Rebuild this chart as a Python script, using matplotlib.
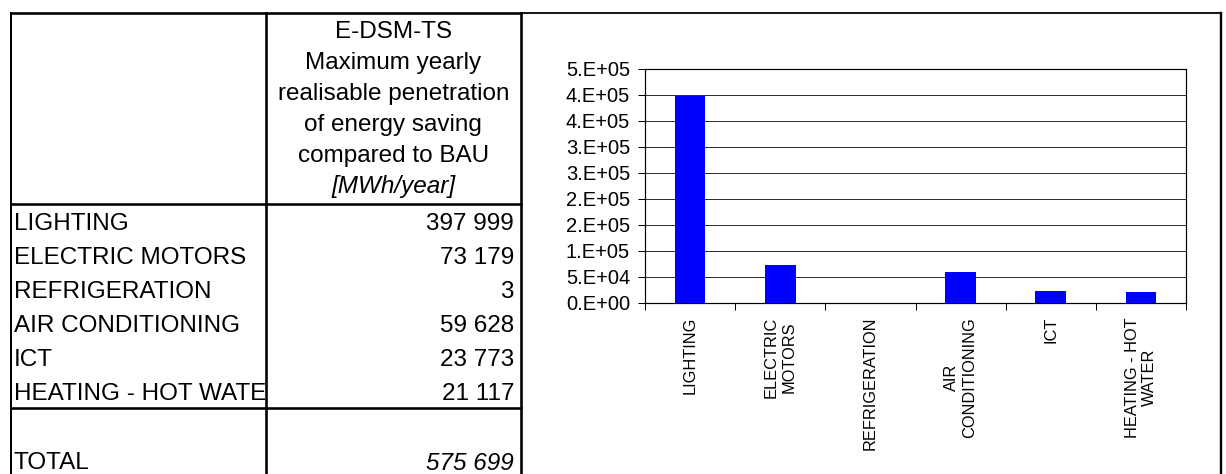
import matplotlib
matplotlib.use("Agg")
import matplotlib.pyplot as plt
import numpy as np
from matplotlib.transforms import Bbox

plt.rcParams['font.family'] = ['Liberation Sans', 'DejaVu Sans']

# ---------------- data ----------------
categories = ['LIGHTING', 'ELECTRIC MOTORS', 'REFRIGERATION', 'AIR CONDITIONING',
              'ICT', 'HEATING - HOT WATER']
chart_labels = ['LIGHTING', 'ELECTRIC\nMOTORS', 'REFRIGERATION', 'AIR\nCONDITIONING',
                'ICT', 'HEATING - HOT\nWATER']
savings = [397999, 73179, 3, 59628, 23773, 21117]
total_label = 'TOTAL'
header_lines = ['E-DSM-TS', 'Maximum yearly', 'realisable penetration',
                'of energy saving', 'compared to BAU', '[MWh/year]']
y_ticks = [0, 50000, 100000, 150000, 200000, 250000, 300000, 350000, 400000, 450000]
y_tick_labels = ['0.E+00', '5.E+04', '1.E+05', '2.E+05', '2.E+05',
                 '3.E+05', '3.E+05', '4.E+05', '4.E+05', '5.E+05']


def fmt(v):
    return f"{v:,}".replace(",", " ")


# ---------------- layout ----------------
W, H, DPI = 1226, 474, 100
fig = plt.figure(figsize=(W / DPI, H / DPI), dpi=DPI)
fig.patch.set_facecolor('white')

ax0 = fig.add_axes([0, 0, 1, 1])
ax0.set_xlim(0, W)
ax0.set_ylim(H, 0)
ax0.axis('off')

X_LEFT, X_SEP, X_TAB, X_RIGHT = 11, 265.5, 521, 1221
Y_TOP, Y_HEAD, Y_ROWS_END = 13, 204, 408
ROW_H = (Y_ROWS_END - Y_HEAD) / len(categories)

px = 0.72  # points per pixel at 100 dpi


def line(xs, ys, w):
    ax0.plot(xs, ys, color='black', lw=w * px, solid_capstyle='projecting',
             clip_on=False)


# outer frame
line([X_LEFT, X_TAB], [Y_TOP, Y_TOP], 2.6)
line([X_TAB, X_RIGHT], [Y_TOP, Y_TOP], 1.8)
line([X_LEFT, X_LEFT], [Y_TOP, H + 2], 2.0)
line([X_RIGHT, X_RIGHT], [Y_TOP, H + 2], 2.4)
# table lines
line([X_SEP, X_SEP], [Y_TOP, H + 2], 2.6)
line([X_TAB, X_TAB], [Y_TOP, H + 2], 2.6)
line([X_LEFT, X_TAB], [Y_HEAD, Y_HEAD], 2.6)
line([X_LEFT, X_TAB], [Y_ROWS_END, Y_ROWS_END], 2.6)

FS = 17.5
# header
hc_x = (X_SEP + X_TAB) / 2
hc_y = (Y_TOP + Y_HEAD) / 2 + 1
LS = 31
for i, t in enumerate(header_lines):
    y = hc_y + (i - (len(header_lines) - 1) / 2) * LS
    ax0.text(hc_x, y, t, ha='center', va='center', fontsize=FS,
             style='italic' if i == len(header_lines) - 1 else 'normal')

clip = Bbox.from_extents(X_LEFT, 0, X_SEP - 1, H)
for i, (c, v) in enumerate(zip(categories, savings)):
    y = Y_HEAD + ROW_H * (i + 0.5) + 3
    t = ax0.text(14, y, c, ha='left', va='center', fontsize=FS, clip_on=True)
    t.set_clip_box(clip)
    ax0.text(514, y, fmt(v), ha='right', va='center', fontsize=FS)

ax0.text(14, 463, total_label, ha='left', va='center', fontsize=FS)
ax0.text(514, 463, fmt(sum(savings)), ha='right', va='center', fontsize=FS,
         style='italic')

# ---------------- chart ----------------
PL, PR, PT, PB = 645, 1186, 69, 303
ax = fig.add_axes([PL / W, (H - PB) / H, (PR - PL) / W, (PB - PT) / H])
x = np.arange(len(savings))
ax.bar(x, savings, width=0.34, color='#0000FF', zorder=3)
ax.set_xlim(-0.5, len(savings) - 0.5)
ax.set_ylim(0, y_ticks[-1])
ax.set_yticks(y_ticks)
ax.set_yticklabels(y_tick_labels, fontsize=14.5)
ax.yaxis.grid(True, color='#303030', lw=1.0 * px, zorder=0)
ax.set_axisbelow(True)
ax.set_xticks(x)
ax.set_xticklabels(chart_labels, rotation=90, ha='center', va='top',
                   multialignment='center', fontsize=11.8)
ax.set_xticks(np.arange(-0.5, len(savings), 1), minor=True)
ax.tick_params(axis='x', which='major', length=0, pad=14 * px)
ax.tick_params(axis='x', which='minor', length=7 * px, width=1.0 * px,
               direction='out')
ax.tick_params(axis='y', which='major', length=7 * px, width=1.0 * px,
               direction='out', pad=8 * px)
for s in ax.spines.values():
    s.set_linewidth(1.2 * px)
    s.set_color('black')

fig.savefig('out.png', dpi=DPI, facecolor='white')
